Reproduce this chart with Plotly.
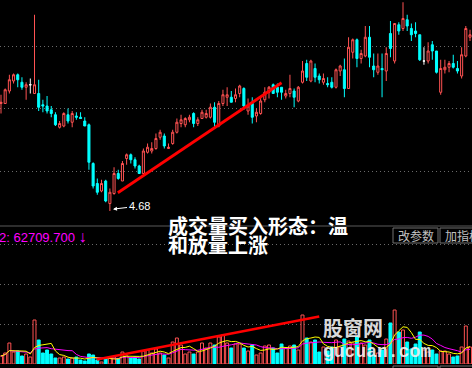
import plotly.graph_objects as go
import pandas as pd

W, H = 472, 368

# ---------------- data ----------------
open_ = [5.54, 5.54, 5.64, 5.72, 5.77, 5.71, 5.67, 5.69, 5.62, 5.62,
         5.53, 5.52, 5.49, 5.45, 5.35, 5.36, 5.45, 5.39, 5.44, 5.43,
         5.40, 5.37, 5.06, 4.90, 4.84, 4.92, 4.74, 4.82, 4.98, 4.92,
         5.10, 5.13, 5.09, 5.04, 4.98, 5.15, 5.16, 5.18, 5.27, 5.28,
         5.18, 5.22, 5.31, 5.38, 5.37, 5.41, 5.46, 5.38, 5.42, 5.43,
         5.43, 5.51, 5.36, 5.54, 5.59, 5.59, 5.58, 5.62, 5.66, 5.48,
         5.54, 5.44, 5.46, 5.57, 5.63, 5.69, 5.67, 5.67, 5.60, 5.62,
         5.64, 5.56, 5.71, 5.86, 5.72, 5.82, 5.76, 5.71, 5.70, 5.71,
         5.67, 5.80, 5.81, 5.66, 5.95, 6.05, 5.90, 5.92, 6.07, 5.84,
         5.79, 5.82, 5.80, 6.10, 5.88, 6.17, 6.14, 6.21, 6.14, 6.12,
         6.09, 5.88, 5.88, 6.01, 5.96, 5.63, 5.81, 5.83, 5.86, 5.82,
         5.76, 5.92, 6.07]
high = [5.61, 5.66, 5.77, 5.78, 5.78, 5.75, 5.71, 5.74, 6.25, 5.73,
        5.57, 5.60, 5.52, 5.47, 5.40, 5.47, 5.50, 5.48, 5.47, 5.47,
        5.43, 5.38, 5.07, 4.94, 4.93, 4.93, 4.86, 5.03, 5.01, 5.08,
        5.14, 5.14, 5.11, 5.05, 5.18, 5.22, 5.23, 5.30, 5.33, 5.30,
        5.22, 5.33, 5.42, 5.45, 5.43, 5.45, 5.47, 5.43, 5.49, 5.49,
        5.54, 5.55, 5.56, 5.65, 5.67, 5.64, 5.66, 5.69, 5.67, 5.58,
        5.59, 5.50, 5.59, 5.67, 5.68, 5.70, 5.70, 5.67, 5.65, 5.77,
        5.66, 5.68, 5.88, 5.89, 5.89, 5.86, 5.78, 5.78, 5.75, 5.75,
        5.82, 5.85, 5.90, 6.07, 6.06, 6.06, 5.97, 6.16, 6.16, 5.94,
        5.94, 5.94, 5.99, 6.20, 6.18, 6.19, 6.35, 6.25, 6.18, 6.19,
        6.09, 5.99, 6.03, 6.04, 5.96, 5.89, 5.89, 5.88, 5.93, 5.88,
        5.99, 6.16, 6.13]
low = [5.46, 5.54, 5.62, 5.70, 5.67, 5.65, 5.57, 5.62, 5.62, 5.48,
       5.47, 5.46, 5.43, 5.36, 5.34, 5.35, 5.38, 5.35, 5.41, 5.42,
       5.36, 5.01, 4.86, 4.81, 4.83, 4.75, 4.68, 4.81, 4.93, 4.92,
       5.05, 5.06, 5.02, 4.98, 4.98, 5.14, 5.14, 5.17, 5.25, 5.18,
       5.18, 5.21, 5.30, 5.35, 5.35, 5.39, 5.35, 5.36, 5.42, 5.42,
       5.42, 5.35, 5.35, 5.52, 5.52, 5.55, 5.55, 5.59, 5.49, 5.45,
       5.38, 5.39, 5.45, 5.55, 5.58, 5.62, 5.59, 5.57, 5.58, 5.59,
       5.51, 5.55, 5.70, 5.72, 5.71, 5.71, 5.70, 5.69, 5.67, 5.66,
       5.66, 5.76, 5.59, 5.66, 5.90, 5.83, 5.86, 5.91, 5.83, 5.75,
       5.77, 5.59, 5.72, 5.91, 5.86, 6.09, 6.12, 6.12, 6.04, 6.07,
       5.88, 5.85, 5.86, 5.89, 5.78, 5.61, 5.78, 5.79, 5.82, 5.78,
       5.74, 5.91, 6.04]
close = [5.55, 5.65, 5.73, 5.77, 5.73, 5.67, 5.69, 5.69, 5.69, 5.51,
         5.52, 5.48, 5.46, 5.37, 5.38, 5.46, 5.40, 5.46, 5.43, 5.42,
         5.36, 5.07, 4.88, 4.83, 4.90, 4.76, 4.83, 4.98, 4.94, 5.06,
         5.13, 5.09, 5.04, 4.98, 5.16, 5.19, 5.18, 5.26, 5.31, 5.20,
         5.19, 5.31, 5.39, 5.41, 5.42, 5.43, 5.38, 5.41, 5.47, 5.46,
         5.51, 5.39, 5.54, 5.61, 5.61, 5.55, 5.61, 5.68, 5.52, 5.52,
         5.43, 5.47, 5.56, 5.63, 5.67, 5.62, 5.63, 5.63, 5.62, 5.66,
         5.59, 5.67, 5.80, 5.75, 5.88, 5.75, 5.73, 5.74, 5.69, 5.67,
         5.81, 5.84, 5.66, 5.99, 6.05, 5.90, 5.94, 6.07, 5.91, 5.81,
         5.84, 5.81, 5.94, 5.98, 6.18, 6.12, 6.22, 6.16, 6.09, 6.10,
         5.89, 5.88, 5.96, 5.96, 5.79, 5.82, 5.83, 5.86, 5.83, 5.80,
         5.93, 6.14, 6.09]
volume = [40000, 55000, 105000, 60000, 65000, 40000, 50000, 35000, 220000, 120000,
          55000, 70000, 50000, 30000, 30000, 35000, 25000, 30000, 35000, 20000,
          15000, 50000, 45000, 20000, 10000, 25000, 35000, 35000, 25000, 60000,
          40000, 30000, 35000, 25000, 65000, 70000, 55000, 75000, 55000, 45000,
          30000, 110000, 130000, 95000, 50000, 60000, 50000, 60000, 105000, 80000,
          105000, 95000, 135000, 145000, 105000, 80000, 100000, 100000, 80000, 65000,
          95000, 45000, 55000, 90000, 95000, 80000, 55000, 100000, 80000, 90000,
          95000, 70000, 245000, 130000, 110000, 120000, 60000, 85000, 65000, 85000,
          120000, 85000, 125000, 115000, 105000, 135000, 105000, 95000, 120000, 45000,
          55000, 70000, 125000, 205000, 270000, 160000, 170000, 110000, 75000, 100000,
          160000, 70000, 60000, 70000, 50000, 65000, 65000, 50000, 35000, 40000,
          85000, 190000, 85000]

price_grid = [5.0, 5.5, 6.0]
vol_grid = [200000, 400000, 600000]
low_label = "4.68"
low_index = 26
vol_label = "2: 62709.700"
vol_arrow = "↓"
title_lines = ["成交量买入形态：温", "和放量上涨"]
buttons = ["改参数", "加指标"]
mark_cn = "股窗网"
mark_en = "gucuan.com"

# hand-drawn trend lines (index, value)
price_trend_x = [27.9, 67.0]
price_trend_y = [4.826, 5.706]
vol_trend_x = [22.9, 76.0]
vol_trend_y = [22500, 237500]

# ---------------- styling ----------------
RED = "#ff5252"
CYAN = "#00ffff"
GRID = "#6a6a6a"

N = len(close)
xs = list(range(N))
up = [i for i in xs if close[i] > open_[i]]
dn = [i for i in xs if close[i] < open_[i]]
fl = [i for i in xs if close[i] == open_[i]]


def sub(arr, idx):
    return [arr[i] for i in idx]


fig = go.Figure()


def candle(idx, line_c, fill_c):
    fig.add_trace(go.Candlestick(
        x=idx, open=sub(open_, idx), high=sub(high, idx), low=sub(low, idx), close=sub(close, idx),
        increasing=dict(line=dict(color=line_c, width=1), fillcolor=fill_c),
        decreasing=dict(line=dict(color=line_c, width=1), fillcolor=fill_c),
        whiskerwidth=0, xaxis="x", yaxis="y", hoverinfo="skip"))


candle(up, RED, "black")
candle(dn, CYAN, CYAN)
candle(fl, "white", "white")

vcol_fill = [CYAN if close[i] < open_[i] else "black" for i in xs]
vcol_line = [CYAN if close[i] < open_[i] else RED for i in xs]
fig.add_trace(go.Bar(x=xs, y=volume, width=0.7, xaxis="x", yaxis="y2",
                     marker=dict(color=vcol_fill, line=dict(color=vcol_line, width=1)),
                     hoverinfo="skip"))

vs = pd.Series(volume, dtype=float)
ma5 = vs.rolling(5, min_periods=1).mean()
ma10 = vs.rolling(10, min_periods=1).mean()
fig.add_trace(go.Scatter(x=xs, y=ma10, mode="lines", line=dict(color="#ff00ff", width=1),
                         xaxis="x", yaxis="y2", hoverinfo="skip"))
fig.add_trace(go.Scatter(x=xs, y=ma5, mode="lines", line=dict(color="#ffff00", width=1),
                         xaxis="x", yaxis="y2", hoverinfo="skip"))

# trend lines
fig.add_trace(go.Scatter(x=price_trend_x, y=price_trend_y, mode="lines",
                         line=dict(color="#ff0000", width=2.8), xaxis="x", yaxis="y", hoverinfo="skip"))
fig.add_trace(go.Scatter(x=vol_trend_x, y=vol_trend_y, mode="lines",
                         line=dict(color="#ff0000", width=2.5), xaxis="x", yaxis="y2", hoverinfo="skip"))

# pixel helpers for layout decorations
SPLIT = 226


def fx(px):
    return px / W


def fy(py):
    return 1 - py / H


step = 4.1875
x_lo = -1 / step
x_hi = (W - 1) / step

fig.update_layout(
    width=W, height=H, margin=dict(l=0, r=0, t=0, b=0),
    paper_bgcolor="black", plot_bgcolor="black", showlegend=False,
    xaxis=dict(range=[x_lo, x_hi], showgrid=False, zeroline=False, showticklabels=False,
               showline=False, rangeslider=dict(visible=False), anchor="y2", fixedrange=True),
    yaxis=dict(domain=[fy(SPLIT), 1], range=[4.56, 6.368], tickvals=price_grid,
               showticklabels=False, gridcolor=GRID, griddash="1px,3px", gridwidth=1,
               zeroline=False, fixedrange=True),
    yaxis2=dict(domain=[fy(364), fy(SPLIT)], range=[0, 690000], tickvals=vol_grid,
                showticklabels=False, gridcolor=GRID, griddash="1px,3px", gridwidth=1,
                zeroline=False, fixedrange=True),
)

shapes = [
    dict(type="line", xref="paper", yref="paper", x0=0, x1=1, y0=fy(SPLIT), y1=fy(SPLIT),
         line=dict(color="#5a5a5a", width=1)),
]
for (a, b, t, bt) in [(393, 438, 228, 243), (440, 476, 228, 243), (393, 438, 366, 380), (440, 476, 366, 380)]:
    shapes.append(dict(type="rect", xref="paper", yref="paper", x0=fx(a), x1=fx(b), y0=fy(bt), y1=fy(t),
                       line=dict(color="#707070", width=1), fillcolor="black"))
fig.update_layout(shapes=shapes)

ann = []
cjk = "Noto Sans CJK SC"
title_html = "<br>".join('<span style="font-size:20px">%s</span>' % s for s in title_lines)
ann.append(dict(xref="paper", yref="paper", x=fx(166), y=fy(235), xanchor="left", yanchor="middle",
                align="left", text=title_html, showarrow=False,
                font=dict(family=cjk, size=14.6, color="white", weight="bold")))
ann.append(dict(xref="paper", yref="paper", x=fx(-3), y=fy(236), xanchor="left", yanchor="middle",
                text=vol_label + ' <span style="font-size:16px">%s</span>' % vol_arrow, showarrow=False,
                font=dict(family="Liberation Sans", size=13, color="#ff00ff")))
ann.append(dict(xref="paper", yref="paper", x=fx(415.5), y=fy(235.5), xanchor="center", yanchor="middle",
                text=buttons[0], showarrow=False, font=dict(family=cjk, size=12, color="#c0c0c0")))
ann.append(dict(xref="paper", yref="paper", x=fx(443), y=fy(235.5), xanchor="left", yanchor="middle",
                text=buttons[1], showarrow=False, font=dict(family=cjk, size=12, color="#c0c0c0")))
ann.append(dict(xref="x", yref="y", x=low_index + 0.75, y=low[low_index] + 0.015,
                text=low_label, showarrow=True, ax=26, ay=-3, arrowhead=2, arrowsize=0.8,
                arrowwidth=1, arrowcolor="white", standoff=0,
                font=dict(family="Liberation Sans", size=11, color="white")))
mark_html = ('<span style="font-size:20px;font-weight:bold">%s</span><br>'
             '<span style="font-family:\'Liberation Mono\';font-size:18px;font-weight:bold">%s</span>'
             % (mark_cn, mark_en))
ann.append(dict(xref="paper", yref="paper", x=fx(321), y=fy(337), xanchor="left", yanchor="middle",
                align="left", text=mark_html, showarrow=False,
                font=dict(family=cjk, size=16, color="rgba(240,240,240,0.92)")))
fig.update_layout(annotations=ann)

fig.write_html("out.html", config={"displayModeBar": False, "staticPlot": True},
               post_script="document.body.style.margin='0px';document.body.style.overflow='hidden';")
